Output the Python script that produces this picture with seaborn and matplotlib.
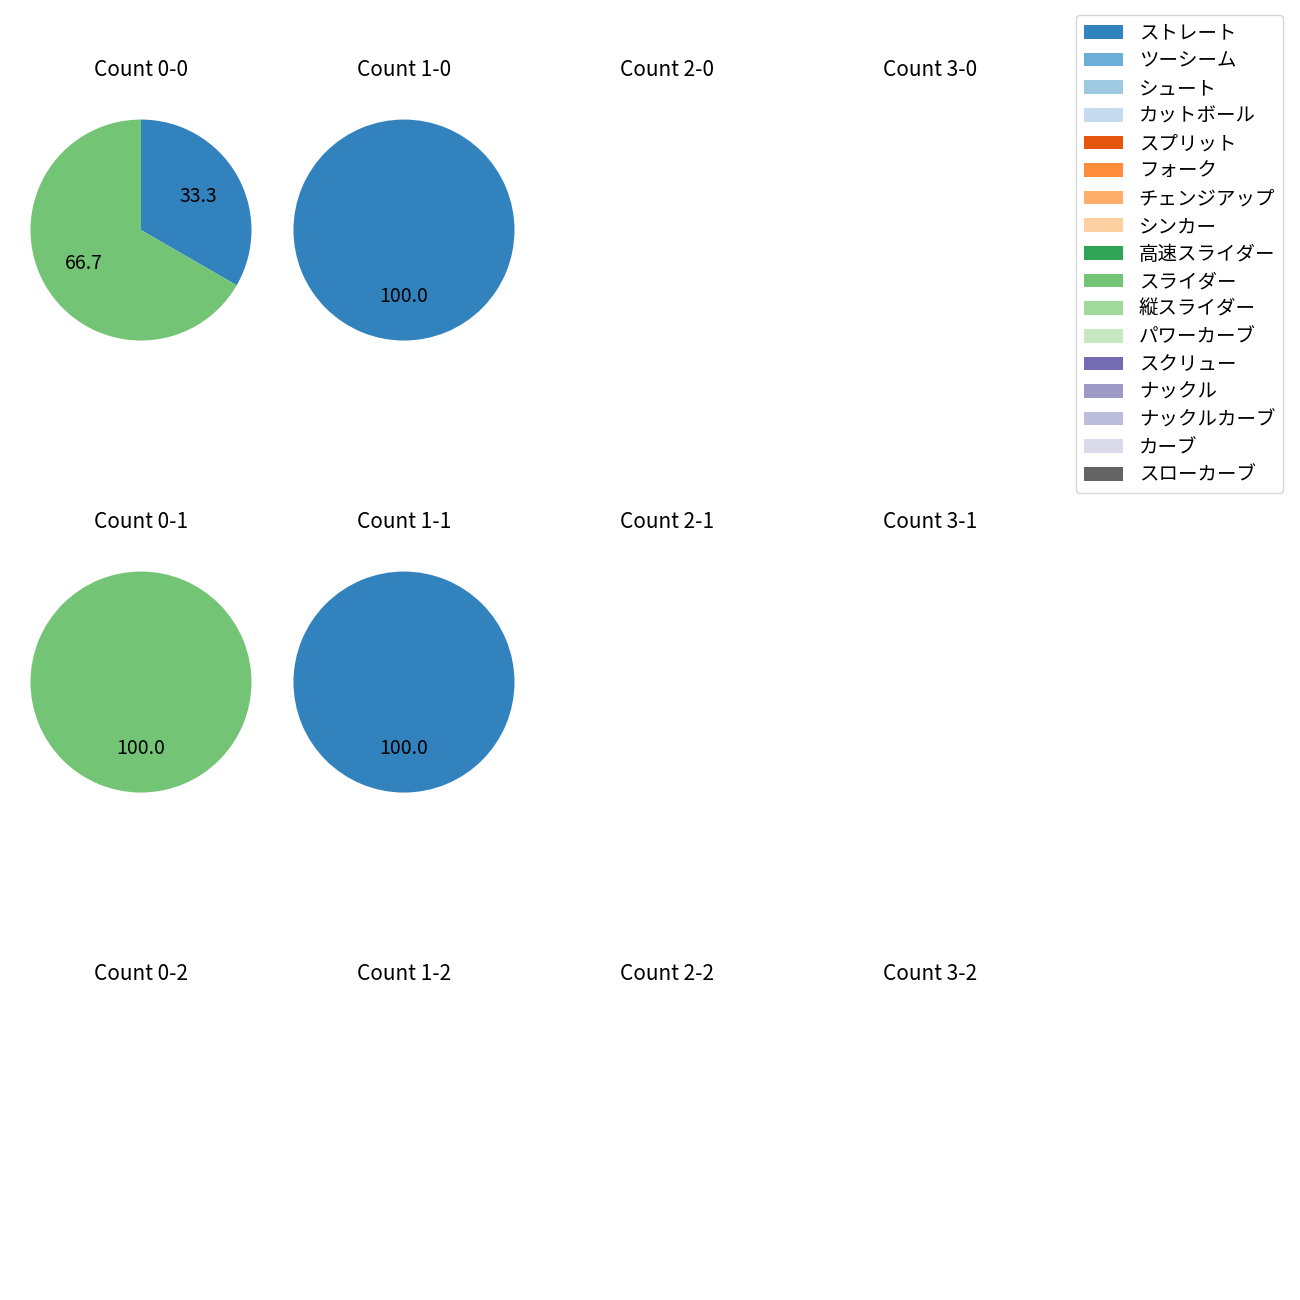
import matplotlib
matplotlib.use("Agg")
import matplotlib.pyplot as plt
import seaborn as sns
from matplotlib.patches import Patch

plt.rcParams['font.family'] = ['Noto Sans CJK JP', 'DejaVu Sans']

pitch_types = ["ストレート", "ツーシーム", "シュート", "カットボール", "スプリット", "フォーク",
               "チェンジアップ", "シンカー", "高速スライダー", "スライダー", "縦スライダー",
               "パワーカーブ", "スクリュー", "ナックル", "ナックルカーブ", "カーブ", "スローカーブ"]
colors = sns.color_palette("tab20c", 17)

balls = [0, 1, 2, 3]
strikes = [0, 1, 2]
# counts per (balls, strikes): dict of pitch type -> count
count_data = {
    (0, 0): {"ストレート": 1, "スライダー": 2},
    (1, 0): {"ストレート": 1},
    (0, 1): {"スライダー": 1},
    (1, 1): {"ストレート": 1},
}

fig, axes = plt.subplots(3, 4, figsize=(13, 13), dpi=100)
fig.subplots_adjust(left=0.0073, right=0.8165, top=0.9242, bottom=0.0265, wspace=0, hspace=0.7186)

for r, s in enumerate(strikes):
    for c, b in enumerate(balls):
        ax = axes[r, c]
        d = count_data.get((b, s))
        if d:
            vals = [d[p] for p in pitch_types if p in d]
            cols = [colors[i] for i, p in enumerate(pitch_types) if p in d]
            ax.pie(vals, colors=cols, autopct="%.1f", startangle=90, counterclock=False,
                   wedgeprops={"linewidth": 0}, textprops={"fontsize": 14, "color": "black"})
        ax.set_xlim(-1.19, 1.19)
        ax.set_ylim(-1.19, 1.19)
        ax.set_aspect("equal")
        ax.axis("off")
        ax.set_title(f"Count {b}-{s}", fontsize=15, color="black", pad=16)

handles = [Patch(facecolor=colors[i], label=p) for i, p in enumerate(pitch_types)]
fig.legend(handles=handles, loc="upper right", bbox_to_anchor=(0.9944, 0.9959),
           fontsize=14, labelspacing=0.34)

fig.savefig("out.png", dpi=100)
